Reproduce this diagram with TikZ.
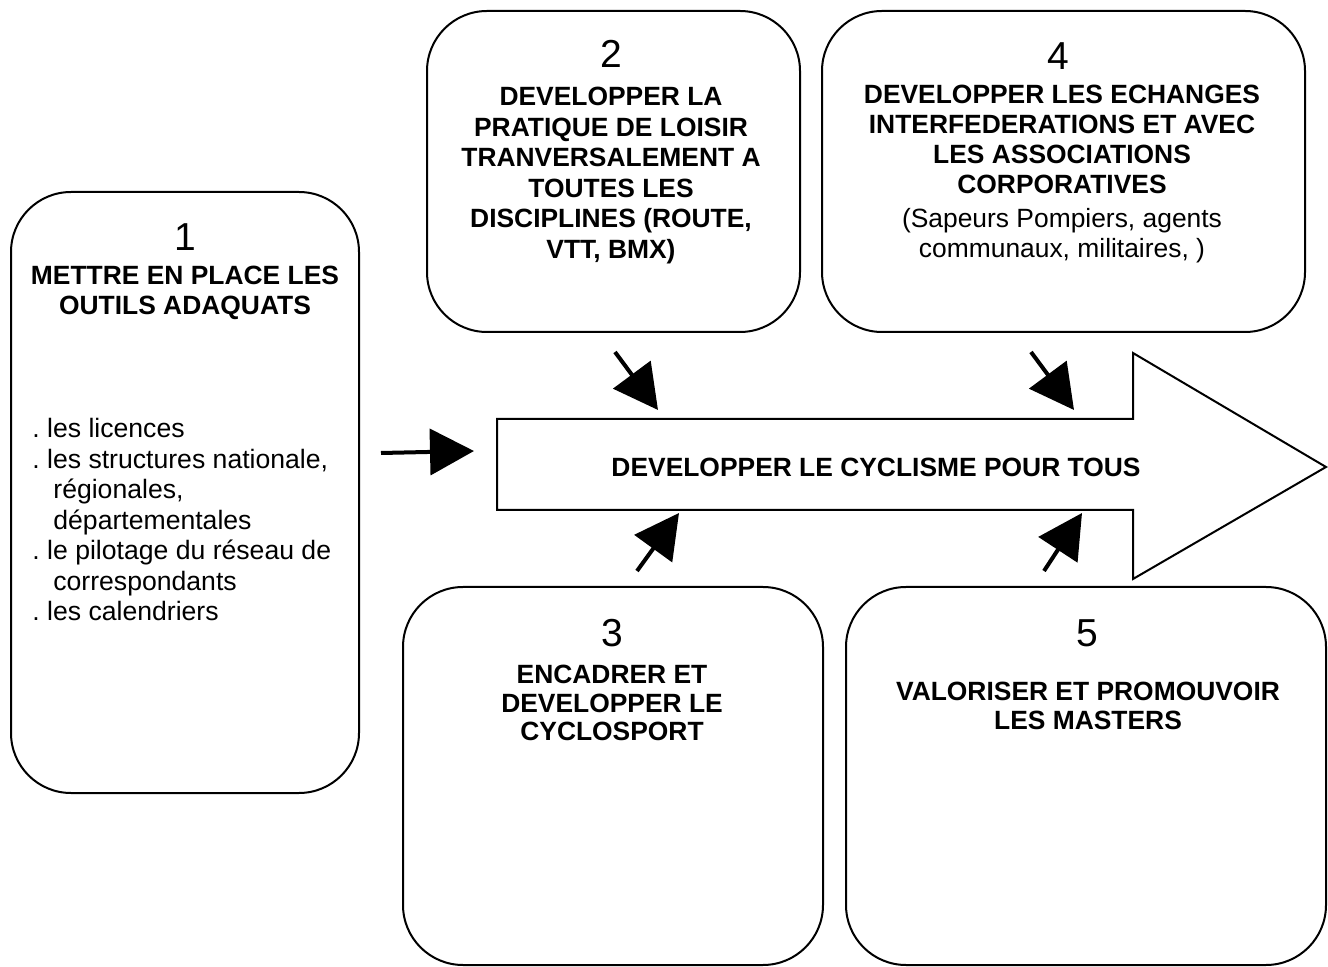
\documentclass[tikz,border=0pt]{standalone}
\usepackage{fontspec}
\setmainfont{Liberation Sans}
\usetikzlibrary{arrows.meta}
\frenchspacing

\tikzset{
  goalbox/.style={draw, line width=1pt, rounded corners=30pt, inner sep=0pt},
  goalnum/.style={inner sep=0pt, font=\fontsize{19.5}{23}\selectfont},
  goaltitle/.style={inner sep=0pt, align=center, anchor=north, font=\fontsize{13.2}{15}\selectfont\bfseries},
  push/.style={line width=2pt, -{Triangle[length=22pt,width=23pt]}},
}

\begin{document}
\begin{tikzpicture}[x=0.5pt, y=-0.5pt]
\useasboundingbox (0,0) rectangle (1328,967);

% the five boxes
\node[goalbox, minimum width=174pt, minimum height=300.5pt] (box1) at (185,492.5){};
\node[goalbox, minimum width=186.5pt, minimum height=160.5pt] (box2) at (613.5,171.5){};
\node[goalbox, minimum width=241.5pt, minimum height=160.5pt] (box4) at (1063.5,171.5){};
\node[goalbox, minimum width=210pt, minimum height=189pt] (box3) at (613,776){};
\node[goalbox, minimum width=240pt, minimum height=189pt] (box5) at (1086,776){};

\node[goalnum] (num1) at (185,237){1};
\node[goalnum] (num2) at (611,54){2};
\node[goalnum] (num4) at (1058,56){4};
\node[goalnum] (num3) at (612,633){3};
\node[goalnum] (num5) at (1087,633){5};

\node[goaltitle] (tit1) at (185,266){METTRE EN PLACE LES\\OUTILS ADAQUATS};
\node[goaltitle, font=\fontsize{13.2}{15.25}\selectfont\bfseries] (tit2) at (611,87){DEVELOPPER LA\\PRATIQUE DE LOISIR\\TRANVERSALEMENT A\\TOUTES LES\\DISCIPLINES (ROUTE,\\VTT, BMX)};
\node[goaltitle] (tit4) at (1062,85){DEVELOPPER LES ECHANGES\\INTERFEDERATIONS ET AVEC\\LES ASSOCIATIONS\\CORPORATIVES\\[2pt]{\mdseries (Sapeurs Pompiers, agents}\\{\mdseries communaux, militaires, )}};
\node[goaltitle, font=\fontsize{13.2}{14.25}\selectfont\bfseries] (tit3) at (612,665){ENCADRER ET\\DEVELOPPER LE\\CYCLOSPORT};
\node[goaltitle, font=\fontsize{13.2}{14.25}\selectfont\bfseries] (tit5) at (1088,682){VALORISER ET PROMOUVOIR\\LES MASTERS};

\node[anchor=north west, inner sep=0pt, align=left, font=\fontsize{13.3}{15.25}\selectfont] (list1) at (32,418){. les licences\\. les structures nationale,\\\hspace*{10.5pt}régionales,\\\hspace*{10.5pt}départementales\\. le pilotage du réseau de\\\hspace*{10.5pt}correspondants\\. les calendriers};

% big arrow
\draw[line width=1pt, line join=miter] (497,419) -- (1133,419) -- (1133,353) -- (1326,467) -- (1133,579) -- (1133,510) -- (497,510) -- cycle;
\node[inner sep=0pt, font=\fontsize{13.2}{15}\selectfont\bfseries] (goal) at (876,467){DEVELOPPER LE CYCLISME POUR TOUS};

% small arrows
\coordinate (from1) at (381,453);
\coordinate (to1) at (474,451);
\coordinate (from2) at (615,352);
\coordinate (to2) at (658,410);
\coordinate (from3) at (637,571);
\coordinate (to3) at (679,513);
\coordinate (from4) at (1031,352);
\coordinate (to4) at (1074,410);
\coordinate (from5) at (1044,571);
\coordinate (to5) at (1082,513);
\draw[push] (from1) -- (to1);
\draw[push] (from2) -- (to2);
\draw[push] (from3) -- (to3);
\draw[push] (from4) -- (to4);
\draw[push] (from5) -- (to5);

\end{tikzpicture}
\end{document}
